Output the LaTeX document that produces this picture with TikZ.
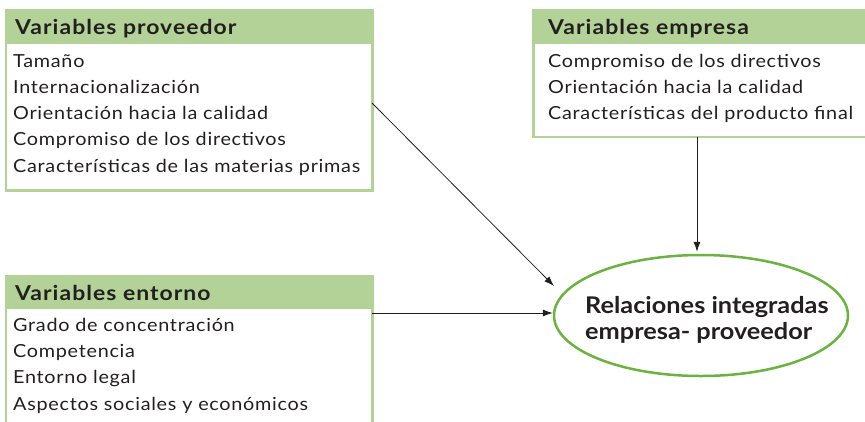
\documentclass[tikz,border=0pt]{standalone}
\usepackage{fontspec}
\setmainfont{Lato}
\newfontfamily\itemfont{Lato}[FakeStretch=1.1,LetterSpace=4]
\newfontfamily\hdrfont{Lato}[FakeStretch=1.12,LetterSpace=5]
\newfontfamily\goalfont{Lato}[FakeStretch=1.1]
\usetikzlibrary{arrows.meta,calc,shapes.geometric}
\definecolor{hdrgreen}{RGB}{179,210,151}
\definecolor{ellgreen}{RGB}{108,178,64}
\definecolor{ink}{RGB}{35,31,32}
\tikzset{
 box/.style={draw=hdrgreen, line width=2.5pt, fill=white, inner sep=0pt, anchor=north west},
 hdr/.style={fill=hdrgreen, inner sep=0pt, anchor=north west},
 hdrtext/.style={anchor=base west, inner sep=0pt, text=ink, font=\hdrfont\fontsize{20.5}{24}\selectfont\bfseries},
 itemtext/.style={anchor=base west, inner sep=0pt, text=ink, font=\itemfont\fontsize{18}{22}\selectfont},
 goaltext/.style={anchor=base west, inner sep=0pt, text=ink, font=\goalfont\fontsize{23}{27}\selectfont\bfseries},
 conn/.style={draw=ink, line width=0.8pt, -{Latex[length=10pt,width=7pt]}},
}
\begin{document}
\begin{tikzpicture}[x=1pt,y=-1pt]
\clip (0,0) rectangle (865,421);
\fill[white] (0,0) rectangle (865,421);
% Variables proveedor
\node[box, minimum width=366.5pt, minimum height=180.5pt] (P) at (4.5,8.5) {};
\node[hdr, minimum width=366.5pt, minimum height=35pt] (Ph) at (4.5,8.5) {};
\node[hdrtext] (Pt) at (15,34.5) {Variables proveedor};
\foreach \t [count=\i] in {Tamaño,Internacionalización,Orientación hacia la calidad,Compromiso de los directivos,Características de las materias primas}
  \node[itemtext] (P\i) at (13,{67+26.3*(\i-1)}) {\t};
% Variables empresa
\node[box, minimum width=348pt, minimum height=127pt] (C) at (532,8.5) {};
\node[hdr, minimum width=348pt, minimum height=35pt] (Ch) at (532,8.5) {};
\node[hdrtext] (Ct) at (548,34.5) {Variables empresa};
\foreach \t [count=\i] in {Compromiso de los directivos,Orientación hacia la calidad,Características del producto final}
  \node[itemtext] (C\i) at (548,{67+26*(\i-1)}) {\t};
% Variables entorno
\node[box, minimum width=366.5pt, minimum height=170pt] (E) at (4.5,274.5) {};
\node[hdr, minimum width=366.5pt, minimum height=34pt] (Eh) at (4.5,274.5) {};
\node[hdrtext] (Et) at (15,300.5) {Variables entorno};
\foreach \t [count=\i] in {Grado de concentración,Competencia,Entorno legal,Aspectos sociales y económicos}
  \node[itemtext] (E\i) at (13,{331+26.4*(\i-1)}) {\t};
% Goal
\node[ellipse, draw=ellgreen, line width=2.5pt, fill=white, minimum width=294pt, minimum height=121pt, inner sep=0pt] (R) at (701,315.5) {};
\node[goaltext] (R1) at (585,313) {Relaciones integradas};
\node[goaltext] (R2) at (585,339.5) {empresa- proveedor};
% Connectors
\coordinate (Pout) at (372,103);
\coordinate (Rin) at (554,286);
\coordinate (Eout) at (372,313);
\coordinate (Cout) at (697,136.5);
\draw[conn] (Pout) -- (Rin);
\draw[conn] (Eout) -- (Eout -| R.west);
\draw[conn] (Cout) -- ($(Cout |- R.north)+(0,-2)$);
\end{tikzpicture}
\end{document}
